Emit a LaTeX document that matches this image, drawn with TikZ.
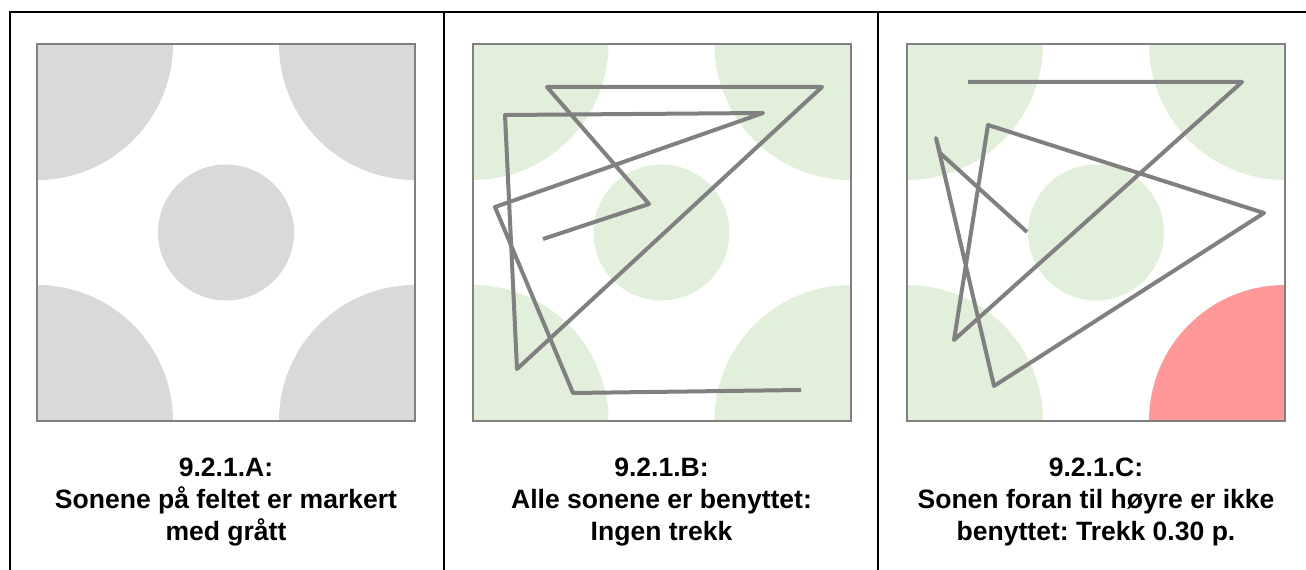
\documentclass[tikz,border=0pt]{standalone}
\usepackage{fontspec}
\setmainfont{Liberation Sans}
\usepackage{tikz}
\usetikzlibrary{positioning}
\frenchspacing

\definecolor{sonegraa}{HTML}{D9D9D9}
\definecolor{sonegronn}{HTML}{E2EFDA}
\definecolor{sonerod}{HTML}{FF9999}
\definecolor{rammegraa}{HTML}{808080}

% one field with its five zones: #1 node, #2 zone colour, #3 front-right zone
\newcommand{\sonefelt}[3]{%
  \begin{scope}
    \clip (#1.north west) rectangle (#1.south east);
    \fill[#2] (#1.north west) circle (136);
    \fill[#2] (#1.north east) circle (136);
    \fill[#2] (#1.south west) circle (136);
    \fill[#3] (#1.south east) circle (136);
    \fill[#2] (#1.center) circle (68);
  \end{scope}
  \draw[ramme] (#1.north west) rectangle (#1.south east);
}

\begin{document}
\begin{tikzpicture}[
    x=0.75pt, y=-0.75pt,
    felt/.style={minimum width=283.5pt, minimum height=282.75pt, inner sep=0, outer sep=0},
    ramme/.style={draw=rammegraa, line width=1.5pt},
    spor/.style={draw=rammegraa, line width=3pt, line join=round},
    kant/.style={draw=black, line width=1.5pt},
    tekst/.style={align=center, inner sep=0, font=\bfseries\fontsize{19.9pt}{24pt}\selectfont}
]
\useasboundingbox (0,0) rectangle (1306,570);

% table lines
\draw[kant] (10,570) -- (10,12.5) -- (1306,12.5);
\draw[kant] (444,12.5) -- (444,570);
\draw[kant] (878,12.5) -- (878,570);

% fields
\node[felt] (feltA) at (226,232.5) {};
\node[felt] (feltB) at (661.5,232.5) {};
\node[felt] (feltC) at (1096,232.5) {};
\sonefelt{feltA}{sonegraa}{sonegraa}
\sonefelt{feltB}{sonegronn}{sonegronn}
\sonefelt{feltC}{sonegronn}{sonerod}

% tracks
\draw[spor] (543,239) -- (649,204) -- (547,87) -- (822,87) -- (517,369)
    -- (505,115) -- (763,113) -- (495,207) -- (573,393) -- (801,390);
\draw[spor] (968,82) -- (1242,82) -- (954,340) -- (988,125) -- (1264,213)
    -- (994,386) -- (936,138) -- (940,153) -- (1027,232);

% captions
\node[tekst, below=27.5pt of feltA] (tekstA) {9.2.1.A:\\Sonene på feltet er markert\\med grått};
\node[tekst, below=27.5pt of feltB] (tekstB) {9.2.1.B:\\Alle sonene er benyttet:\\Ingen trekk};
\node[tekst, below=27.5pt of feltC] (tekstC) {9.2.1.C:\\Sonen foran til høyre er ikke\\benyttet: Trekk 0.30 p.};
\end{tikzpicture}
\end{document}
